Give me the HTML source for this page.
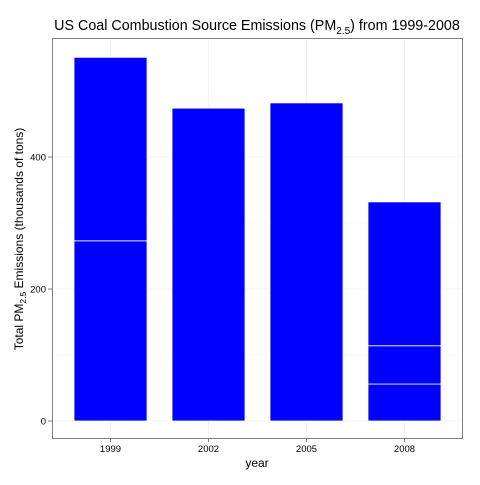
<!DOCTYPE html>
<html><head><meta charset="utf-8"><style>
html,body{margin:0;padding:0;background:#fff;}
svg text{font-family:"Liberation Sans",sans-serif;}
</style></head><body>
<svg id="chart" width="480" height="480" xmlns="http://www.w3.org/2000/svg">
<rect x="0" y="0" width="480" height="480" fill="#fff"/>
<g id="grid"></g>
<g id="bars"></g>
<rect x="52.5" y="38.5" width="410" height="400" fill="none" stroke="#7f7f7f" stroke-width="1"/>
<g id="axes"></g>
<text x="257" y="30" text-anchor="middle" font-size="14.3">US Coal Combustion Source Emissions (PM<tspan font-size="10" dy="4">2.5</tspan><tspan dy="-4">) from 1999-2008</tspan></text>
<text x="257" y="467" text-anchor="middle" font-size="12">year</text>
<text transform="translate(23,239) rotate(-90)" text-anchor="middle" font-size="12">Total PM<tspan font-size="8.5" dy="3">2.5</tspan><tspan dy="-3"> Emissions (thousands of tons)</tspan></text>
</svg>
<script>
const categories = ["1999","2002","2005","2008"];
const segments1999 = [273, 278];
const segments2002 = [474];
const segments2005 = [482];
const segments2008 = [56, 58, 218];
const yTicks = [0, 200, 400];
const yTickLabels = ["0","200","400"];

const allSegs = [segments1999, segments2002, segments2005, segments2008];
const NS = "http://www.w3.org/2000/svg";
const plotL = 52, plotR = 462, plotT = 38, plotB = 438;
function y(v){ return 421 - v * 0.66; }
function xc(i){ return 110.5 + i * 98; }
const bw = 73;

const grid = document.getElementById("grid");
const axes = document.getElementById("axes");
const bars = document.getElementById("bars");
function mk(tag, attrs){ const e = document.createElementNS(NS, tag); for (const k in attrs) e.setAttribute(k, attrs[k]); return e; }

for (let i = 0; i < yTicks.length - 1; i++) {
  const mv = (yTicks[i] + yTicks[i+1]) / 2;
  const l = mk("line", {x1: plotL, x2: plotR, y1: y(mv), y2: y(mv), stroke: "#f5f5f5", "stroke-width": 0.6});
  
  
  grid.appendChild(l);
}
for (let i = 0; i < yTicks.length; i++) {
  const yy = y(yTicks[i]);
  const l = mk("line", {x1: plotL, x2: plotR, y1: yy, y2: yy, stroke: "#ebebeb", "stroke-width": 0.6});
  
  
  grid.appendChild(l);
  const t = mk("line", {x1: plotL - 4, x2: plotL, y1: yy, y2: yy, stroke: "#7f7f7f"});
  
  
  axes.appendChild(t);
  const tx = mk("text", {x: plotL - 6, y: yy + 3.5, "text-anchor": "end", "font-size": 9.5});
  tx.textContent = yTickLabels[i];
  
  
  axes.appendChild(tx);
}
for (let i = 0; i < categories.length; i++) {
  const l = mk("line", {x1: xc(i), x2: xc(i), y1: plotT, y2: plotB, stroke: "#ebebeb", "stroke-width": 0.6});
  
  
  grid.appendChild(l);
  const t = mk("line", {x1: xc(i), x2: xc(i), y1: plotB, y2: plotB + 4, stroke: "#7f7f7f"});
  
  
  axes.appendChild(t);
  const tx = mk("text", {x: xc(i), y: plotB + 14, "text-anchor": "middle", "font-size": 9.5});
  tx.textContent = categories[i];
  
  
  axes.appendChild(tx);
  let cum = 0;
  allSegs[i].forEach((v, j) => {
    const r = mk("rect", {x: xc(i) - bw/2, y: y(cum + v), width: bw, height: y(cum) - y(cum + v), fill: "#0000ff", stroke: "#fff", "stroke-width": 0.8});
    
    
    bars.appendChild(r);
    cum += v;
  });
}
</script>
</body></html>
